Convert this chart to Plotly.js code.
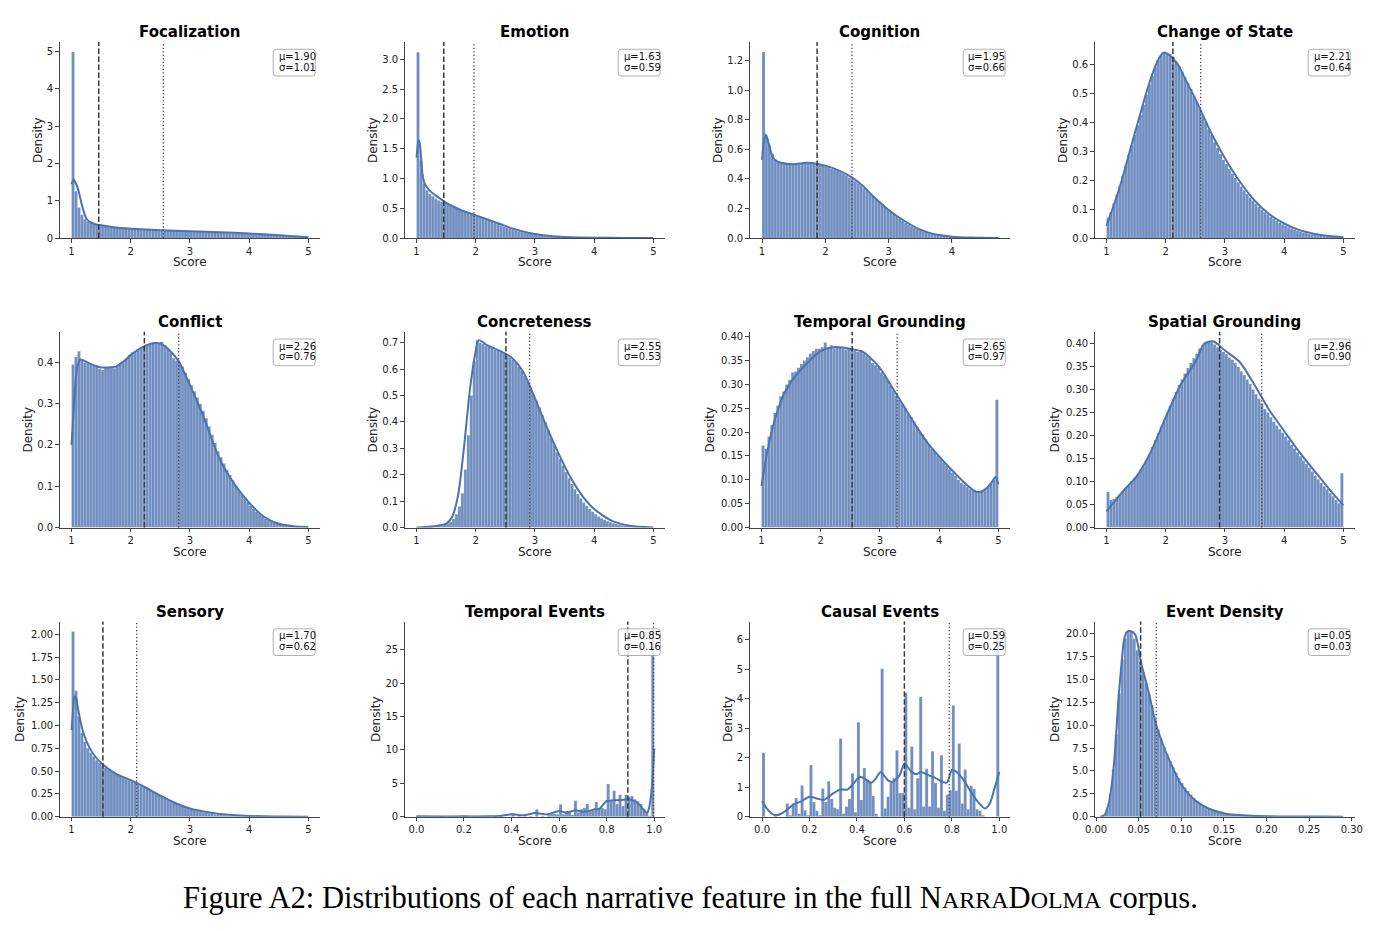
<!DOCTYPE html>
<html>
<head>
<meta charset="utf-8">
<script src="https://cdn.plot.ly/plotly-3.0.1.min.js"></script>
<style>
  html, body { margin: 0; padding: 0; background: #ffffff; }
  #chart { width: 1381px; height: 931px; }
</style>
</head>
<body>
<div id="chart"></div>
<script>
// ---- Feature summary values ----
const featureNames = ['Focalization', 'Emotion', 'Cognition', 'Change of State',
  'Conflict', 'Concreteness', 'Temporal Grounding', 'Spatial Grounding',
  'Sensory', 'Temporal Events', 'Causal Events', 'Event Density'];
const means = [1.90, 1.63, 1.95, 2.21, 2.26, 2.55, 2.65, 2.96, 1.70, 0.85, 0.59, 0.05];
const stds  = [1.01, 0.59, 0.66, 0.64, 0.76, 0.53, 0.97, 0.90, 0.62, 0.16, 0.25, 0.03];
// reference lines per feature (dashed, dotted)
const dashedAt = [1.46, 1.46, 1.87, 2.12, 2.23, 2.51, 2.53, 2.91, 1.53, 0.889, 0.600, 0.0523];
const dottedAt = [2.55, 1.97, 2.42, 2.59, 2.81, 2.91, 3.29, 3.62, 2.10, 0.997, 0.789, 0.0706];

// ---- Histogram densities (equal-width bins) ----
const focalizationHist = [4.98,1.25,0.82,0.62,0.50,0.45,0.41,0.38,0.36,0.34,
  0.33,0.32,0.31,0.30,0.29,0.285,0.28,0.27,0.265,0.26,
  0.255,0.25,0.245,0.24,0.235,0.23,0.228,0.225,0.22,0.215,
  0.212,0.21,0.205,0.2,0.198,0.195,0.192,0.19,0.188,0.185,
  0.182,0.18,0.177,0.175,0.172,0.17,0.167,0.165,0.162,0.16,
  0.157,0.155,0.15,0.148,0.145,0.14,0.137,0.133,0.13,0.125,
  0.12,0.115,0.11,0.105,0.1,0.095,0.09,0.085,0.08,0.075,
  0.07,0.065,0.06,0.055,0.05,0.045,0.04,0.035,0.03,0.022];
const emotionHist = [3.12,1.30,0.92,0.80,0.74,0.70,0.66,0.63,0.61,0.59,
  0.57,0.55,0.53,0.51,0.49,0.47,0.45,0.43,0.41,0.395,
  0.375,0.355,0.335,0.315,0.295,0.275,0.255,0.235,0.215,0.195,
  0.178,0.16,0.145,0.13,0.115,0.1,0.09,0.08,0.07,0.06,
  0.052,0.045,0.039,0.033,0.028,0.024,0.02,0.017,0.014,0.012,
  0.01,0.008,0.007,0.006,0.005,0.004,0.0035,0.003,0.0025,0.002,
  0.0018,0.0015,0.0013,0.0011,0.001,0.0009,0.0008,0.0007,0.0006,0.0005,
  0.0005,0.0004,0.0004,0.0003,0.0003,0.0003,0.0002,0.0002,0.0002,0.0002];
const cognitionHist = [1.26,0.68,0.63,0.57,0.53,0.515,0.51,0.505,0.50,0.50,
  0.50,0.50,0.505,0.505,0.51,0.51,0.51,0.505,0.50,0.50,
  0.495,0.49,0.48,0.47,0.465,0.455,0.445,0.435,0.425,0.41,
  0.40,0.385,0.37,0.355,0.335,0.318,0.30,0.282,0.264,0.247,
  0.23,0.212,0.194,0.177,0.16,0.145,0.13,0.116,0.103,0.091,
  0.08,0.07,0.061,0.053,0.046,0.04,0.034,0.029,0.024,0.02,
  0.017,0.014,0.0115,0.0095,0.008,0.0065,0.0053,0.0043,0.0035,0.0028,
  0.0022,0.0018,0.0015,0.0012,0.001,0.0008,0.0006,0.0005,0.0004,0.0003];
const changeHist = [0.07,0.09,0.12,0.15,0.18,0.215,0.25,0.285,0.32,0.355,
  0.39,0.425,0.46,0.495,0.53,0.56,0.59,0.615,0.63,0.64,
  0.64,0.635,0.625,0.61,0.595,0.575,0.555,0.535,0.515,0.49,
  0.47,0.445,0.42,0.4,0.375,0.355,0.33,0.31,0.29,0.27,
  0.255,0.238,0.222,0.207,0.192,0.178,0.165,0.152,0.14,0.129,
  0.118,0.108,0.098,0.089,0.081,0.073,0.066,0.059,0.053,0.047,
  0.042,0.037,0.033,0.029,0.025,0.022,0.019,0.017,0.015,0.013,
  0.011,0.0095,0.008,0.007,0.006,0.005,0.0043,0.0037,0.0032,0.0028];
const conflictHist = [0.395,0.413,0.427,0.405,0.40,0.398,0.395,0.392,0.39,0.385,
  0.382,0.387,0.388,0.39,0.386,0.39,0.395,0.40,0.41,0.418,
  0.425,0.428,0.433,0.437,0.44,0.443,0.446,0.448,0.448,0.447,
  0.45,0.442,0.435,0.425,0.41,0.405,0.40,0.39,0.375,0.36,
  0.345,0.33,0.315,0.30,0.283,0.265,0.245,0.225,0.205,0.185,
  0.17,0.155,0.14,0.127,0.114,0.102,0.09,0.08,0.07,0.062,
  0.053,0.045,0.038,0.032,0.027,0.022,0.018,0.015,0.012,0.0095,
  0.0075,0.006,0.0045,0.0035,0.0027,0.002,0.0015,0.001,0.0008,0.0006];
const concretenessHist = [0.001,0.001,0.002,0.002,0.003,0.004,0.005,0.007,0.009,0.012,
  0.016,0.022,0.032,0.05,0.08,0.13,0.22,0.35,0.5,0.63,
  0.71,0.70,0.695,0.69,0.685,0.68,0.675,0.67,0.665,0.66,
  0.65,0.645,0.635,0.625,0.61,0.595,0.575,0.555,0.53,0.505,
  0.48,0.455,0.425,0.40,0.37,0.34,0.315,0.285,0.26,0.235,
  0.21,0.187,0.165,0.145,0.127,0.11,0.095,0.082,0.07,0.06,
  0.05,0.042,0.035,0.029,0.024,0.02,0.016,0.013,0.011,0.009,
  0.007,0.006,0.005,0.004,0.003,0.0025,0.002,0.0015,0.001,0.001];
const temporalGroundingHist = [0.172,0.165,0.19,0.215,0.24,0.255,0.275,0.285,0.30,0.31,
  0.325,0.327,0.335,0.343,0.35,0.357,0.365,0.37,0.375,0.375,
  0.378,0.388,0.378,0.382,0.376,0.378,0.377,0.376,0.373,0.374,
  0.372,0.37,0.368,0.372,0.365,0.36,0.355,0.345,0.34,0.335,
  0.325,0.318,0.31,0.298,0.288,0.277,0.268,0.258,0.25,0.238,
  0.232,0.222,0.212,0.20,0.195,0.185,0.175,0.165,0.16,0.15,
  0.145,0.137,0.13,0.122,0.115,0.108,0.10,0.094,0.09,0.085,
  0.08,0.077,0.075,0.074,0.075,0.078,0.085,0.092,0.10,0.268];
const spatialGroundingHist = [0.077,0.06,0.062,0.066,0.072,0.078,0.085,0.092,0.10,0.107,
  0.115,0.125,0.135,0.147,0.16,0.175,0.19,0.205,0.22,0.235,
  0.25,0.265,0.28,0.295,0.31,0.322,0.335,0.347,0.358,0.368,
  0.378,0.39,0.397,0.402,0.405,0.403,0.398,0.392,0.386,0.382,
  0.377,0.37,0.365,0.358,0.35,0.34,0.332,0.322,0.312,0.30,
  0.29,0.28,0.27,0.258,0.25,0.24,0.23,0.222,0.214,0.206,
  0.198,0.19,0.18,0.172,0.163,0.155,0.146,0.138,0.13,0.122,
  0.113,0.105,0.097,0.09,0.083,0.075,0.068,0.06,0.053,0.118];
const sensoryHist = [2.03,1.38,1.10,0.92,0.82,0.75,0.70,0.66,0.62,0.59,
  0.56,0.54,0.52,0.50,0.48,0.46,0.44,0.43,0.41,0.40,
  0.385,0.37,0.355,0.34,0.325,0.31,0.29,0.275,0.26,0.24,
  0.225,0.21,0.19,0.175,0.16,0.145,0.13,0.117,0.104,0.092,
  0.081,0.071,0.062,0.054,0.047,0.04,0.035,0.03,0.025,0.021,
  0.018,0.015,0.013,0.011,0.009,0.0075,0.0062,0.005,0.0042,0.0035,
  0.0029,0.0024,0.002,0.0016,0.0013,0.0011,0.0009,0.0007,0.0006,0.0005,
  0.0004,0.0003,0.0003,0.0002,0.0002,0.0002,0.0001,0.0001,0.0001,0.0001];
const temporalEventsHist = [0.1,0,0,0,0,0.03,0,0,0.05,0,
  0,0,0,0.03,0,0,0.1,0,0,0,
  0.05,0,0,0,0.03,0,0.15,0,0.05,0,
  0,0,0.55,0,0.1,0,0.15,0,0.1,0,
  1.1,0,0.15,0,0.25,0.5,0.45,0.35,1.85,0.35,
  0.85,0.55,0.3,2.4,0.65,1.1,1.35,1.9,0.8,0.9,
  2.2,1.2,1.3,1.1,4.9,2.3,3.9,1.9,3.3,1.6,
  3.3,3.0,3.1,2.6,2.3,1.9,1.2,0.6,0.15,27.8];
const causalEventsHist = [2.17,0,0,0,0.02,0,0,0,0.45,0.05,
  0.45,0.63,0.1,1.06,0.22,0.05,1.75,0.5,0.2,0.05,
  0.96,0.5,1.2,0.6,0.3,0.25,2.65,0.1,0.35,0.6,
  1.47,0.15,3.2,0.57,1.65,1.25,1.15,0.7,0.1,0,
  5.02,0.28,0.68,1.15,1.3,2.25,0.8,0.8,4.2,0.3,
  2.38,0.25,1.3,4.07,0.35,1.63,0.35,2.22,1.15,0.3,
  2.08,0.2,0.75,0.9,3.77,0.88,2.48,0.45,1.6,0.25,
  1.05,0.95,0.25,0.2,0.05,0,0,0,0,6.3];
const eventDensityHist = [0.2,0.9,2.5,5.2,9,13.5,17.2,19.5,20.3,20.2,
  19.5,18.2,17.0,15.8,14.6,13.4,12.2,10.7,9.5,8.5,
  7.6,6.8,6.1,5.4,4.8,4.2,3.7,3.2,2.8,2.4,
  2.05,1.75,1.5,1.28,1.08,0.92,0.78,0.66,0.56,0.47,
  0.4,0.34,0.29,0.25,0.21,0.18,0.155,0.13,0.11,0.095,
  0.08,0.07,0.062,0.055,0.05,0.045,0.04,0.036,0.033,0.03,
  0.027,0.025,0.023,0.021,0.019,0.017,0.016,0.015,0.014,0.013,
  0.012,0.011,0.01,0.009,0.008,0.007,0.006,0.005,0.004,0.003];

// ---- Kernel density curves ----
const focalizationKdeX = [1.0,1.02,1.04,1.06,1.09,1.12,1.15,1.2,1.25,1.3,1.4,1.5,1.75,2.0,2.5,3.0,3.5,4.0,4.5,5.0];
const focalizationKdeY = [1.44,1.53,1.57,1.5,1.4,1.25,1.05,0.74,0.52,0.44,0.37,0.34,0.28,0.25,0.21,0.18,0.155,0.12,0.075,0.02];
const emotionKdeX = [1.0,1.02,1.04,1.06,1.08,1.1,1.13,1.17,1.22,1.3,1.4,1.5,1.6,1.8,2.0,2.2,2.4,2.6,2.8,3.0,3.3,3.6,4.0,4.5,5.0];
const emotionKdeY = [1.35,1.55,1.64,1.55,1.3,1.08,0.93,0.86,0.8,0.73,0.66,0.59,0.54,0.45,0.38,0.31,0.24,0.165,0.11,0.068,0.03,0.012,0.004,0.001,0.0];
const cognitionKdeX = [1.0,1.03,1.06,1.1,1.15,1.2,1.3,1.5,1.7,1.9,2.0,2.2,2.42,2.6,2.75,3.0,3.25,3.5,3.75,4.0,4.3,4.74];
const cognitionKdeY = [0.53,0.66,0.70,0.65,0.57,0.53,0.51,0.50,0.51,0.50,0.49,0.46,0.41,0.35,0.285,0.19,0.115,0.057,0.023,0.009,0.003,0.0005];
const changeKdeX = [1.0,1.1,1.2,1.3,1.4,1.5,1.6,1.7,1.8,1.9,1.97,2.05,2.2,2.35,2.5,2.6,2.75,3.0,3.25,3.5,3.75,4.0,4.25,4.5,4.75,5.0];
const changeKdeY = [0.042,0.1,0.16,0.23,0.305,0.378,0.45,0.52,0.58,0.625,0.64,0.632,0.6,0.54,0.48,0.436,0.37,0.275,0.195,0.13,0.082,0.05,0.028,0.015,0.007,0.003];
const conflictKdeX = [1.0,1.03,1.06,1.1,1.15,1.2,1.3,1.4,1.5,1.6,1.75,1.9,2.0,2.2,2.4,2.5,2.6,2.8,3.0,3.25,3.5,3.75,4.0,4.25,4.5,4.75,5.0];
const conflictKdeY = [0.2,0.27,0.34,0.39,0.407,0.405,0.398,0.392,0.388,0.388,0.39,0.405,0.418,0.437,0.447,0.446,0.437,0.405,0.345,0.26,0.166,0.105,0.06,0.026,0.009,0.003,0.001];
const concretenessKdeX = [1.0,1.3,1.5,1.6,1.7,1.8,1.9,2.0,2.05,2.2,2.4,2.6,2.8,3.0,3.2,3.4,3.6,3.8,4.0,4.3,4.6,5.0];
const concretenessKdeY = [0.0,0.005,0.015,0.04,0.12,0.3,0.52,0.67,0.71,0.69,0.67,0.645,0.59,0.49,0.38,0.28,0.19,0.12,0.07,0.025,0.007,0.0];
const temporalGroundingKdeX = [1.0,1.05,1.1,1.15,1.2,1.3,1.4,1.5,1.6,1.75,1.9,2.0,2.2,2.4,2.6,2.7,2.8,3.0,3.2,3.4,3.6,3.8,4.0,4.2,4.4,4.5,4.6,4.7,4.8,4.9,4.95,5.0];
const temporalGroundingKdeY = [0.087,0.125,0.16,0.19,0.215,0.255,0.285,0.305,0.322,0.342,0.36,0.37,0.378,0.377,0.372,0.369,0.36,0.334,0.295,0.255,0.215,0.178,0.149,0.122,0.097,0.086,0.076,0.075,0.082,0.097,0.106,0.09];
const spatialGroundingKdeX = [1.0,1.25,1.5,1.75,2.0,2.25,2.5,2.65,2.8,3.0,3.25,3.5,3.75,4.0,4.25,4.5,4.75,5.0];
const spatialGroundingKdeY = [0.035,0.075,0.11,0.165,0.24,0.31,0.36,0.4,0.405,0.385,0.36,0.31,0.255,0.21,0.165,0.125,0.085,0.048];
const sensoryKdeX = [1.0,1.03,1.05,1.08,1.1,1.15,1.2,1.3,1.4,1.5,1.75,2.0,2.25,2.5,2.75,3.0,3.25,3.5,4.0,4.5,5.0];
const sensoryKdeY = [0.95,1.2,1.32,1.3,1.22,1.05,0.92,0.76,0.66,0.59,0.47,0.4,0.32,0.23,0.15,0.09,0.055,0.03,0.008,0.002,0.0];
const temporalEventsKdeX = [0,0.1,0.2,0.3,0.35,0.4,0.45,0.5,0.55,0.6,0.63,0.67,0.7,0.73,0.75,0.77,0.79,0.8,0.83,0.86,0.89,0.92,0.94,0.96,0.97,0.98,0.99,1.0];
const temporalEventsKdeY = [0.05,0.03,0.05,0.05,0.1,0.35,0.2,0.55,0.35,0.85,0.6,0.95,0.75,0.9,1.1,1.2,2.0,2.35,2.45,2.5,2.6,2.3,1.7,0.8,0.6,1.6,4.5,10.2];
const causalEventsKdeX = [0,0.02,0.04,0.06,0.08,0.1,0.13,0.16,0.2,0.23,0.26,0.3,0.33,0.36,0.38,0.41,0.43,0.46,0.48,0.5,0.53,0.55,0.58,0.6,0.63,0.65,0.67,0.7,0.73,0.76,0.78,0.8,0.82,0.85,0.88,0.91,0.94,0.96,0.98,1.0];
const causalEventsKdeY = [0.53,0.28,0.11,0.05,0.1,0.2,0.4,0.5,0.68,0.62,0.57,0.79,0.92,0.92,1.07,1.35,1.3,1.15,1.3,1.52,1.24,1.18,1.41,1.8,1.52,1.44,1.52,1.41,1.32,1.18,1.16,1.58,1.52,1.24,0.85,0.5,0.28,0.45,0.96,1.52];
const eventDensityKdeX = [0.005,0.01,0.015,0.02,0.0227,0.0266,0.03,0.0324,0.036,0.04,0.046,0.0527,0.0617,0.0707,0.0773,0.085,0.1,0.116,0.132,0.151,0.183,0.22,0.26,0.29];
const eventDensityKdeY = [0,0.2,1.5,4.8,7.8,13.3,16.8,19.1,20.2,20.3,19.9,16.9,13.6,10.0,8.2,6.4,3.5,1.8,0.9,0.36,0.1,0.03,0.01,0.003];

// ---- Per-panel drawing setup ----
const panels = [
  {hist: focalizationHist, kx: focalizationKdeX, ky: focalizationKdeY, start: 1, bw: 0.05,
   xr: [0.8, 5.2], xd: 1, xf: 'd', yr: [0, 5.25], yd: 1, yf: 'd', lab: 38},
  {hist: emotionHist, kx: emotionKdeX, ky: emotionKdeY, start: 1, bw: 0.05,
   xr: [0.8, 5.2], xd: 1, xf: 'd', yr: [0, 3.29], yd: 0.5, yf: '.1f', lab: 373},
  {hist: cognitionHist, kx: cognitionKdeX, ky: cognitionKdeY, start: 1, bw: 0.04675,
   xr: [0.805, 4.92], xd: 1, xf: 'd', yr: [0, 1.327], yd: 0.2, yf: '.1f', lab: 718},
  {hist: changeHist, kx: changeKdeX, ky: changeKdeY, start: 1, bw: 0.05,
   xr: [0.8, 5.2], xd: 1, xf: 'd', yr: [0, 0.676], yd: 0.1, yf: '.1f', lab: 1063},
  {hist: conflictHist, kx: conflictKdeX, ky: conflictKdeY, start: 1, bw: 0.05,
   xr: [0.8, 5.2], xd: 1, xf: 'd', yr: [0, 0.4746], yd: 0.1, yf: '.1f', lab: 28},
  {hist: concretenessHist, kx: concretenessKdeX, ky: concretenessKdeY, start: 1, bw: 0.05,
   xr: [0.8, 5.2], xd: 1, xf: 'd', yr: [0, 0.742], yd: 0.1, yf: '.1f', lab: 373},
  {hist: temporalGroundingHist, kx: temporalGroundingKdeX, ky: temporalGroundingKdeY, start: 1, bw: 0.05,
   xr: [0.8, 5.2], xd: 1, xf: 'd', yr: [0, 0.4105], yd: 0.05, yf: '.2f', lab: 710},
  {hist: spatialGroundingHist, kx: spatialGroundingKdeX, ky: spatialGroundingKdeY, start: 1, bw: 0.05,
   xr: [0.8, 5.2], xd: 1, xf: 'd', yr: [0, 0.426], yd: 0.05, yf: '.2f', lab: 1055},
  {hist: sensoryHist, kx: sensoryKdeX, ky: sensoryKdeY, start: 1, bw: 0.05,
   xr: [0.8, 5.2], xd: 1, xf: 'd', yr: [0, 2.14], yd: 0.25, yf: '.2f', lab: 20},
  {hist: temporalEventsHist, kx: temporalEventsKdeX, ky: temporalEventsKdeY, start: 0, bw: 0.0125,
   xr: [-0.049, 1.046], xd: 0.2, xf: '.1f', yr: [0, 29.2], yd: 5, yf: 'd', lab: 376},
  {hist: causalEventsHist, kx: causalEventsKdeX, ky: causalEventsKdeY, start: 0, bw: 0.0125,
   xr: [-0.052, 1.046], xd: 0.2, xf: '.1f', yr: [0, 6.62], yd: 1, yf: 'd', lab: 728},
  {hist: eventDensityHist, kx: eventDensityKdeX, ky: eventDensityKdeY, start: 0.008, bw: 0.0035,
   xr: [-0.0016, 0.304], xd: 0.05, xf: '.2f', yr: [0, 21.35], yd: 2.5, yf: '.1f', lab: 1055}
];

const W = 1381, H = 931;
const colLeft = [59.7, 404.7, 749.7, 1094.7];
const axW = 260.5;
const rowTop = [42, 331.7, 621.5];
const rowBottom = [238, 527.5, 816.7];
const px = v => v / W;
const py = v => 1 - v / H;

const BLUE = '#4c72b0';
const FONT = 'DejaVu Sans';
const traces = [];
const shapes = [];
const boxes = [];
const annotations = [];
const layout = {
  width: W, height: H,
  margin: {l: 0, r: 0, t: 0, b: 0},
  paper_bgcolor: '#ffffff', plot_bgcolor: 'rgba(0,0,0,0)',
  showlegend: false, hovermode: false, barmode: 'overlay',
  font: {family: FONT, color: '#222222'}
};

// rounded rectangle path in paper coordinates, from pixel bounds
function roundRect(l, t, r, b, rad) {
  const P = (x, y) => px(x).toFixed(6) + ',' + py(y).toFixed(6);
  return 'M' + P(l + rad, t) + ' L' + P(r - rad, t) + ' Q' + P(r, t) + ' ' + P(r, t + rad) +
    ' L' + P(r, b - rad) + ' Q' + P(r, b) + ' ' + P(r - rad, b) +
    ' L' + P(l + rad, b) + ' Q' + P(l, b) + ' ' + P(l, b - rad) +
    ' L' + P(l, t + rad) + ' Q' + P(l, t) + ' ' + P(l + rad, t) + ' Z';
}

panels.forEach((p, i) => {
  const k = i + 1;
  const r = Math.floor(i / 4), c = i % 4;
  const xa = 'x' + k, ya = 'y' + k;
  const left = colLeft[c], right = colLeft[c] + axW;
  const top = rowTop[r], bottom = rowBottom[r];

  const centers = p.hist.map((_, j) => p.start + (j + 0.5) * p.bw);
  traces.push({
    type: 'bar', x: centers, y: p.hist, width: p.bw,
    xaxis: xa, yaxis: ya,
    marker: {color: 'rgba(76,114,176,0.8)', line: {color: 'rgba(255,255,255,0.4)', width: 0.35}}
  });
  traces.push({
    type: 'scatter', mode: 'lines', x: p.kx, y: p.ky,
    xaxis: xa, yaxis: ya,
    line: {color: BLUE, width: 2, shape: 'spline', smoothing: 0.7}
  });

  const axisCommon = {
    showgrid: false, zeroline: false, showline: true,
    linecolor: '#444444', linewidth: 1,
    ticks: 'outside', ticklen: 3.5, tickwidth: 1, tickcolor: '#444444',
    tickfont: {family: FONT, size: 10, color: '#222222'},
    fixedrange: true
  };
  layout['xaxis' + (k === 1 ? '' : k)] = Object.assign({}, axisCommon, {
    domain: [px(left), px(right)], anchor: ya, range: p.xr,
    tick0: 0, dtick: p.xd, tickformat: p.xf
  });
  layout['yaxis' + (k === 1 ? '' : k)] = Object.assign({}, axisCommon, {
    domain: [py(bottom), py(top)], anchor: xa, range: p.yr,
    tick0: 0, dtick: p.yd, tickformat: p.yf
  });

  // reference lines
  shapes.push({type: 'line', xref: xa, yref: ya + ' domain', x0: dashedAt[i], x1: dashedAt[i], y0: 0, y1: 1,
    line: {color: '#3a3a3a', width: 1.5, dash: '5.5px,2.5px'}});
  shapes.push({type: 'line', xref: xa, yref: ya + ' domain', x0: dottedAt[i], x1: dottedAt[i], y0: 0, y1: 1,
    line: {color: '#444444', width: 1.3, dash: '1.3px,2.2px'}});

  // mean / std box (rounded frame + two text lines)
  const bR = right - 5, bL = right - 47, bT = top + 7.3, bB = top + 34;
  boxes.push({type: 'path', xref: 'paper', yref: 'paper', path: roundRect(bL, bT, bR, bB, 3),
    fillcolor: 'rgba(255,255,255,0.8)', line: {color: '#9a9a9a', width: 0.8}});
  annotations.push({xref: 'paper', yref: 'paper', x: px(bL + 3.3), y: py(bT + 7),
    xanchor: 'left', yanchor: 'middle', showarrow: false,
    text: 'μ=' + means[i].toFixed(2), font: {family: FONT, size: 10, color: '#111111'}});
  annotations.push({xref: 'paper', yref: 'paper', x: px(bL + 3.3), y: py(bT + 18),
    xanchor: 'left', yanchor: 'middle', showarrow: false,
    text: 'σ=' + stds[i].toFixed(2), font: {family: FONT, size: 10, color: '#111111'}});

  // panel title
  annotations.push({xref: 'paper', yref: 'paper', x: px((left + right) / 2), y: py(top - 9.5),
    xanchor: 'center', yanchor: 'middle', showarrow: false,
    text: '<b>' + featureNames[i] + '</b>', font: {family: FONT, size: 15, color: '#000000'}});
  // axis labels
  annotations.push({xref: 'paper', yref: 'paper', x: px((left + right) / 2), y: py(bottom + 24),
    xanchor: 'center', yanchor: 'middle', showarrow: false,
    text: 'Score', font: {family: FONT, size: 12, color: '#222222'}});
  annotations.push({xref: 'paper', yref: 'paper', x: px(p.lab), y: py((top + bottom) / 2),
    xanchor: 'center', yanchor: 'middle', showarrow: false, textangle: -90,
    text: 'Density', font: {family: FONT, size: 12, color: '#222222'}});
});

// figure caption
annotations.push({xref: 'paper', yref: 'paper', x: px(690), y: py(898),
  xanchor: 'center', yanchor: 'middle', showarrow: false,
  text: 'Figure A2: Distributions of each narrative feature in the full N<span style="font-size:24px">ARRA</span>D<span style="font-size:24px">OLMA</span> corpus.',
  font: {family: 'Liberation Serif', size: 30.5, color: '#000000'}});

layout.shapes = shapes.concat(boxes);
layout.annotations = annotations;

Plotly.newPlot('chart', traces, layout, {staticPlot: true, displayModeBar: false});
</script>
</body>
</html>
